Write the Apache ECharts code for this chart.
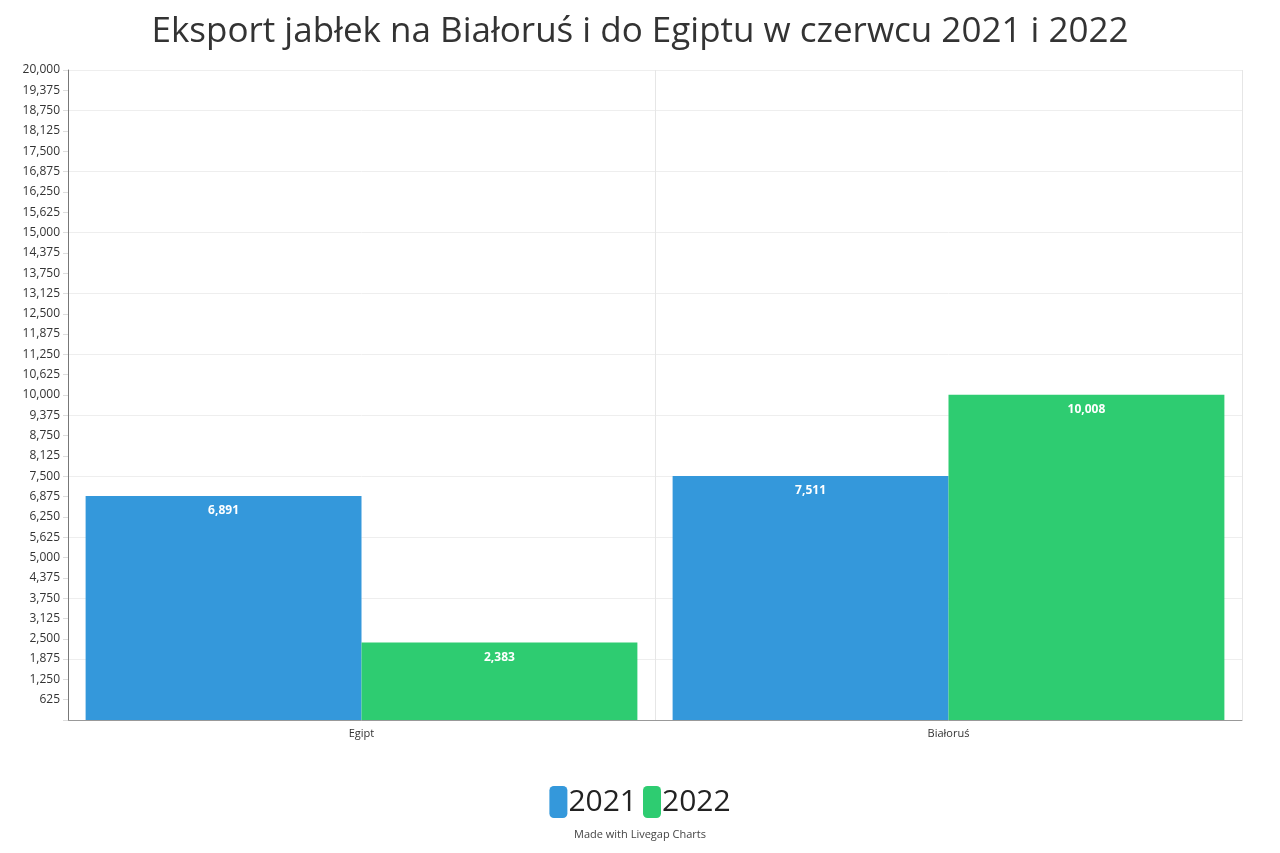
<!DOCTYPE html><html><head><meta charset="utf-8"><script src="https://cdn.jsdelivr.net/npm/echarts@6/dist/echarts.min.js"></script>
<style>body{margin:0;background:#fff}#c{width:1280px;height:853px}</style></head><body><div id="c"></div><script>
const categories=['Egipt','Białoruś'];
const s2021=[6891,7511];
const s2022=[2383,10008];
const font='"Open Sans", sans-serif';
const ch=echarts.init(document.getElementById('c'));
const lbl={show:true,position:'insideTop',color:'#fff',fontWeight:'bold',fontSize:12,fontFamily:font,offset:[0,4],formatter:p=>p.value.toLocaleString('en-US')};
ch.setOption({
 animation:false,
 title:{text:'Eksport jabłek na Białoruś i do Egiptu w czerwcu 2021 i 2022',left:'center',top:10,textStyle:{fontFamily:font,fontWeight:'normal',fontSize:35,color:'#333'}},
 legend:{bottom:30,itemWidth:18,itemHeight:32,itemGap:6,textStyle:{fontFamily:font,fontSize:30,color:'#222',padding:[0,0,0,-4]},data:['2021','2022']},
 graphic:[{type:'text',left:'center',bottom:13,style:{text:'Made with Livegap Charts',font:'11px "Open Sans"',fill:'#444'}}],
 grid:{left:68,right:38,top:70,bottom:133},
 xAxis:{type:'category',data:categories,axisLine:{lineStyle:{color:'#999'}},axisTick:{show:false},axisLabel:{fontFamily:font,fontSize:11,color:'#333'},splitLine:{show:true,lineStyle:{color:'#e6e6e6'}}},
 yAxis:[{type:'value',min:0,max:20000,interval:625,axisLine:{show:true,lineStyle:{color:'#777'}},axisTick:{show:true,inside:false,length:5,lineStyle:{color:'#ddd'}},splitLine:{show:false},axisLabel:{fontFamily:font,fontSize:12,color:'#333',formatter:v=>v===0?'':v.toLocaleString('en-US')}},
 {type:'value',min:0,max:20000,interval:1875,position:'left',axisLine:{show:false},axisTick:{show:false},axisLabel:{show:false},splitLine:{show:true,lineStyle:{color:'#eeeeee'}}}],
 series:[
  {name:'2021',type:'bar',data:s2021,barGap:'0%',barCategoryGap:'6%',itemStyle:{color:'#3498db'},label:lbl},
  {name:'2022',type:'bar',data:s2022,itemStyle:{color:'#2ecc71'},label:lbl}
 ]
});
</script></body></html>
